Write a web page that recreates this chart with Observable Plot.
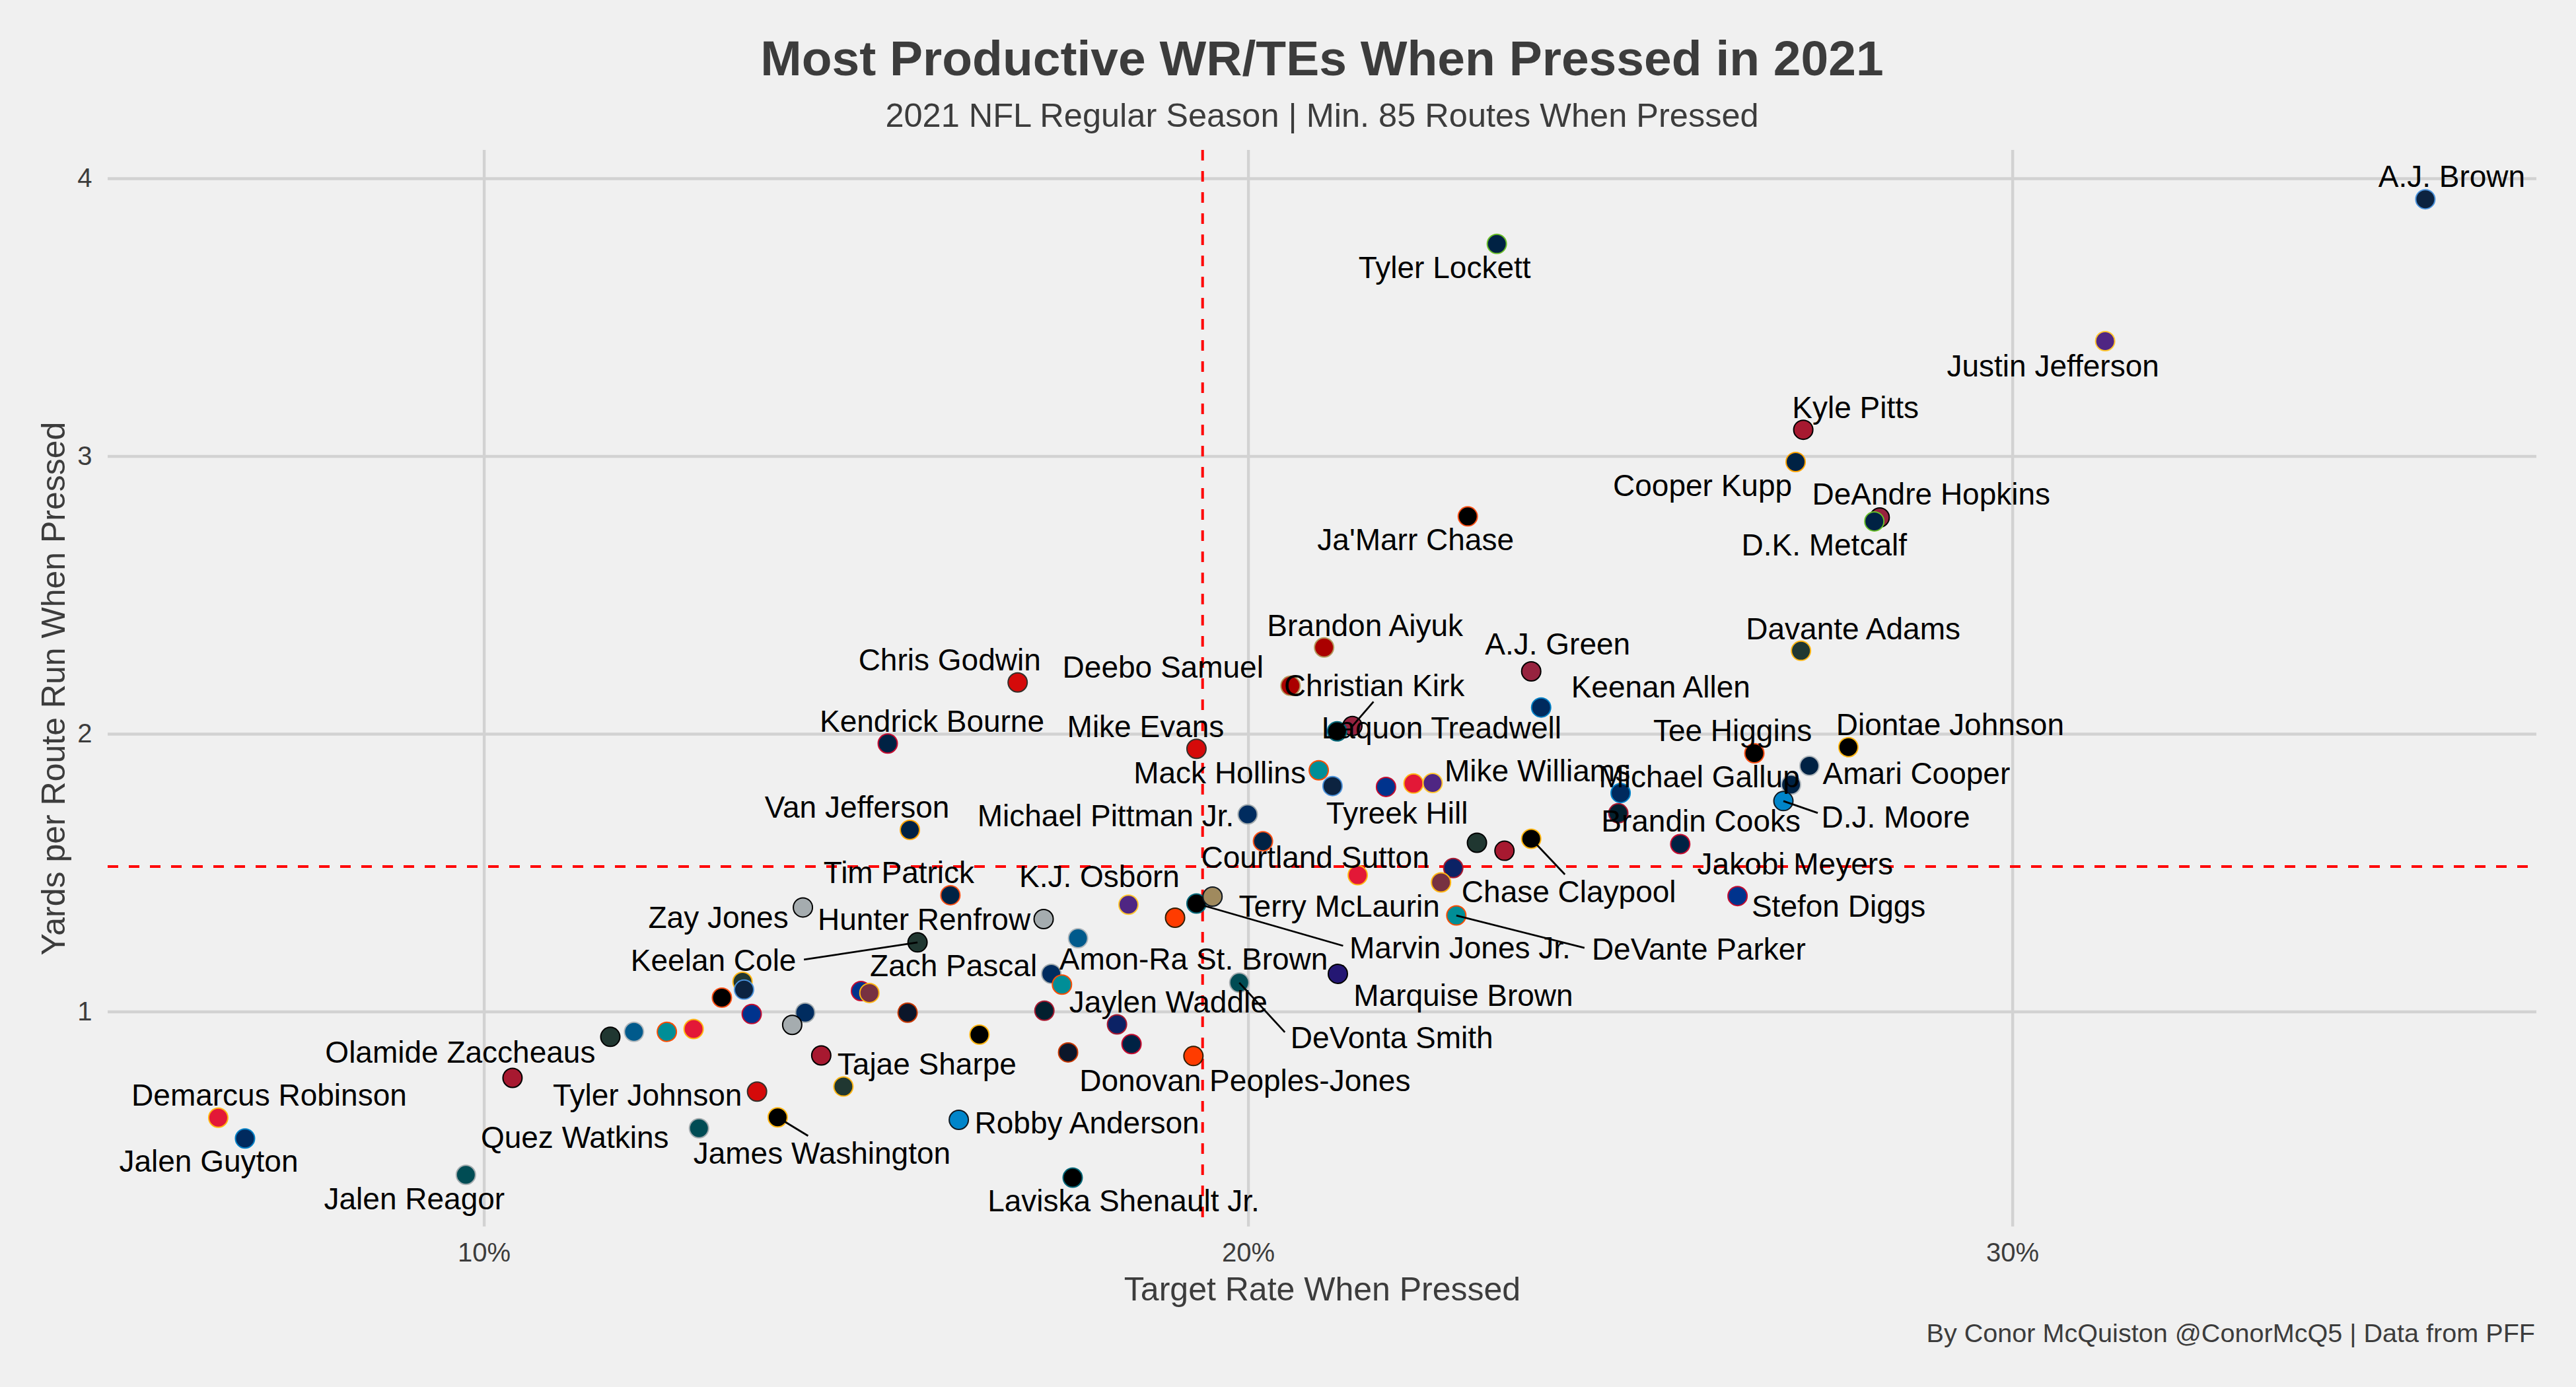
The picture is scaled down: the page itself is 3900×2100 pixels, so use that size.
<!DOCTYPE html>
<html>
<head>
<meta charset="utf-8">
<script src="https://cdn.jsdelivr.net/npm/d3@7"></script>
<script src="https://cdn.jsdelivr.net/npm/@observablehq/plot@0.6"></script>
<style>
  html, body { margin: 0; padding: 0; background: #F0F0F0; }
  #page { position: relative; width: 3900px; height: 2100px; background: #F0F0F0; overflow: hidden;
          font-family: "Liberation Sans", Arial, Helvetica, sans-serif; color: #3C3C3C; }
  #title { position: absolute; left: 163px; width: 3677px; top: 51px; text-align: center;
           font-size: 75px; line-height: 75px; font-weight: bold; white-space: nowrap; }
  #subtitle { position: absolute; left: 163px; width: 3677px; top: 150px; text-align: center;
              font-size: 50.5px; line-height: 50px; white-space: nowrap; }
  #chart { position: absolute; left: 0; top: 210px; }
  #caption { position: absolute; right: 62px; top: 1998px; font-size: 39.6px; line-height: 40px; white-space: nowrap; }
</style>
</head>
<body>
<div id="page">
  <div id="title">Most Productive WR/TEs When Pressed in 2021</div>
  <div id="subtitle">2021 NFL Regular Season | Min. 85 Routes When Pressed</div>
  <div id="chart"></div>
  <div id="caption">By Conor McQuiston @ConorMcQ5 | Data from PFF</div>
</div>
<script>
// ---------------- DATA ----------------
const players = [
  "A.J. Brown", "Justin Jefferson", "Tyler Lockett", "Kyle Pitts", "Cooper Kupp",
  "DeAndre Hopkins", "D.K. Metcalf", "Ja'Marr Chase", "Davante Adams", "Brandon Aiyuk",
  "A.J. Green", "Chris Godwin", "Deebo Samuel", "Keenan Allen", "Christian Kirk",
  "Laquon Treadwell", "Kendrick Bourne", "Mike Evans", "Tee Higgins", "Diontae Johnson",
  "Amari Cooper", "Michael Gallup", "D.J. Moore", "Mack Hollins", "",
  "", "Tyreek Hill", "", "Mike Williams", "Brandin Cooks",
  "Michael Pittman Jr.", "Courtland Sutton", "Jakobi Meyers", "Van Jefferson", "Chase Claypool",
  "", "", "", "", "Terry McLaurin",
  "DeVante Parker", "Stefon Diggs", "Tim Patrick", "Zay Jones", "Hunter Renfrow",
  "K.J. Osborn", "", "Marvin Jones Jr.", "", "Keelan Cole",
  "Amon-Ra St. Brown", "Zach Pascal", "Jaylen Waddle", "Marquise Brown", "DeVonta Smith",
  "", "", "", "", "",
  "", "", "", "", "",
  "", "", "", "", "Donovan Peoples-Jones",
  "Olamide Zaccheaus", "", "", "", "",
  "Tajae Sharpe", "", "Tyler Johnson", "James Washington", "Quez Watkins",
  "Robby Anderson", "Laviska Shenault Jr.", "Demarcus Robinson", "Jalen Guyton", "Jalen Reagor"
];
const teams = [
  "TEN", "MIN", "SEA", "ATL", "LA",
  "ARI", "SEA", "CIN", "GB", "SF",
  "ARI", "TB", "SF", "LAC", "ARI",
  "JAX", "NE", "TB", "CIN", "PIT",
  "DAL", "DAL", "CAR", "MIA", "TEN",
  "BUF", "KC", "MIN", "LAC", "HOU",
  "IND", "DEN", "NE", "LA", "PIT",
  "NYJ", "ATL", "KC", "NYG", "WAS",
  "MIA", "BUF", "DEN", "LV", "LV",
  "MIN", "CLE", "JAX", "NO", "NYJ",
  "DET", "IND", "MIA", "BAL", "PHI",
  "GB", "TEN", "CIN", "BUF", "IND",
  "LV", "BUF", "WAS", "CHI", "HOU",
  "NYG", "PIT", "CHI", "NE", "CLE",
  "ATL", "NYJ", "DET", "MIA", "KC",
  "ATL", "GB", "TB", "PIT", "PHI",
  "CAR", "JAX", "KC", "LAC", "PHI"
];
// Target rate when pressed (%)
const targetRate = [
  35.40, 31.21, 23.25, 27.26, 27.16,
  28.26, 28.19, 22.87, 27.23, 20.99,
  23.70, 16.98, 20.55, 23.83, 21.36,
  21.16, 15.28, 19.32, 26.62, 27.85,
  27.34, 27.10, 27.00, 20.92, 21.10,
  21.80, 22.16, 22.41, 24.87, 24.84,
  19.99, 20.19, 25.65, 15.57, 23.70,
  22.99, 23.35, 21.43, 22.68, 22.52,
  22.72, 26.40, 16.10, 14.17, 17.32,
  18.43, 19.04, 19.32, 19.53, 15.67,
  17.77, 17.42, 17.56, 21.17, 19.88,
  13.38, 13.40, 13.11, 13.50, 14.20,
  14.03, 14.93, 15.04, 15.54, 17.33,
  18.28, 16.48, 17.64, 18.47, 19.28,
  10.37, 11.65, 11.96, 12.39, 12.74,
  14.41, 14.70, 13.57, 13.84, 12.81,
  16.21, 17.70, 6.52, 6.87, 9.76
];
// Yards per route run when pressed
const yprr = [
  3.926, 3.415, 3.765, 3.096, 2.980,
  2.780, 2.766, 2.784, 2.300, 2.312,
  2.226, 2.186, 2.174, 2.096, 2.029,
  2.010, 1.966, 1.947, 1.931, 1.953,
  1.886, 1.818, 1.759, 1.870, 1.813,
  1.810, 1.822, 1.824, 1.788, 1.715,
  1.711, 1.614, 1.604, 1.655, 1.623,
  1.609, 1.580, 1.492, 1.518, 1.466,
  1.347, 1.417, 1.420, 1.376, 1.334,
  1.386, 1.339, 1.390, 1.415, 1.250,
  1.265, 1.137, 1.098, 1.137, 1.105,
  1.108, 1.080, 1.051, 0.992, 0.997,
  0.953, 1.075, 1.068, 0.997, 1.004,
  0.955, 0.918, 0.854, 0.884, 0.841,
  0.762, 0.910, 0.928, 0.928, 0.938,
  0.843, 0.731, 0.713, 0.620, 0.581,
  0.611, 0.403, 0.619, 0.544, 0.413
];
const avgTargetRate = 19.40;
const avgYprr = 1.523;
const xTicks = [10, 20, 30];
const yTicks = [1, 2, 3, 4];

// team colours: [fill, outline]
const teamColors = {
  ARI: ["#97233F", "#000000"], ATL: ["#A71930", "#000000"], BAL: ["#241773", "#000000"],
  BUF: ["#00338D", "#C60C30"], CAR: ["#0085CA", "#101820"], CHI: ["#0B162A", "#C83803"],
  CIN: ["#000000", "#FB4F14"], CLE: ["#FF3C00", "#311D00"], DAL: ["#002244", "#B0B7BC"],
  DEN: ["#002244", "#FB4F14"], DET: ["#005A8C", "#B0B7BC"], GB: ["#203731", "#FFB612"],
  HOU: ["#03202F", "#A71930"], IND: ["#002C5F", "#A2AAAD"], JAX: ["#000000", "#006778"],
  KC: ["#E31837", "#FFB612"], LA: ["#002244", "#FFA300"], LAC: ["#002A5E", "#0080C6"],
  LV: ["#A5ACAF", "#000000"], MIA: ["#008E97", "#FC4C02"], MIN: ["#4F2683", "#FFC62F"],
  NE: ["#002244", "#C60C30"], NO: ["#A08A5E", "#101820"], NYG: ["#0B2265", "#A71930"],
  NYJ: ["#203731", "#000000"], PHI: ["#004C54", "#A5ACAF"], PIT: ["#000000", "#FFB612"],
  SEA: ["#002244", "#69BE28"], SF: ["#AA0000", "#B3995D"], TB: ["#D50A0A", "#34302B"],
  TEN: ["#0C2340", "#4B92DB"], WAS: ["#773141", "#FFB612"]
};

// ---------------- LAYOUT (label placement, px offsets from the point) ----------------
const labelNudge = {
  "A.J. Brown": [40, -33], "Justin Jefferson": [-79, 39], "Tyler Lockett": [-79, 37],
  "Kyle Pitts": [79, -32], "Cooper Kupp": [-141, 37], "DeAndre Hopkins": [78, -34],
  "D.K. Metcalf": [-76, 37], "Ja'Marr Chase": [-79, 36], "Davante Adams": [79, -32],
  "Brandon Aiyuk": [62, -32], "A.J. Green": [40, -40], "Chris Godwin": [-103, -33],
  "Deebo Samuel": [-193, -27], "Keenan Allen": [181, -30], "Christian Kirk": [33, -60],
  "Laquon Treadwell": [158, -4], "Kendrick Bourne": [67, -33], "Mike Evans": [-77, -33],
  "Tee Higgins": [-33, -33], "Diontae Johnson": [154, -33], "Amari Cooper": [162, 13],
  "Michael Gallup": [-139, -11], "D.J. Moore": [170, 25], "Mack Hollins": [-150, 5],
  "Tyreek Hill": [-25, 46], "Mike Williams": [-126, -32], "Brandin Cooks": [125, 13],
  "Michael Pittman Jr.": [-215, 3], "Courtland Sutton": [79, 25], "Jakobi Meyers": [174, 31],
  "Van Jefferson": [-80, -33], "Chase Claypool": [57, 81], "Terry McLaurin": [-154, 37],
  "DeVante Parker": [367, 52], "Stefon Diggs": [153, 17], "Tim Patrick": [-78, -33],
  "Zay Jones": [-128, 16], "Hunter Renfrow": [-181, 2], "K.J. Osborn": [-44, -41],
  "Marvin Jones Jr.": [399, 68], "Keelan Cole": [-309, 28], "Amon-Ra St. Brown": [175, 33],
  "Zach Pascal": [-148, -11], "Jaylen Waddle": [161, 27], "Marquise Brown": [190, 34],
  "DeVonta Smith": [231, 84], "Donovan Peoples-Jones": [78, 38], "Olamide Zaccheaus": [-79, -38],
  "Tajae Sharpe": [160, 14], "Tyler Johnson": [-166, 7], "James Washington": [67, 55],
  "Quez Watkins": [-188, 15], "Robby Anderson": [194, 6], "Laviska Shenault Jr.": [77, 36],
  "Demarcus Robinson": [77, -33], "Jalen Guyton": [-55, 36], "Jalen Reagor": [-78, 37]
};
// leader line end points (px offsets from the point)
const leaderEnds = {
  "Christian Kirk": [32, -37], "D.J. Moore": [52, 18], "Chase Claypool": [51, 54],
  "DeVante Parker": [194, 49], "Marvin Jones Jr.": [222, 64], "Keelan Cole": [-172, 26],
  "DeVonta Smith": [69, 75], "James Washington": [46, 28]
};

// ---------------- CHART ----------------
const width = 3900, height = 1780;
const mL = 163, mR = 60, mT = 17, mB = 133;
const xDomain = [5.077, 36.857];
const yDomain = [0.2259, 4.1023];

const sx = Plot.scale({x: {domain: xDomain, range: [mL, width - mR]}});
const sy = Plot.scale({y: {domain: yDomain, range: [height - mB, mT]}});

const rows = players.map((name, i) => ({
  name, team: teams[i], x: targetRate[i], y: yprr[i],
  fill: teamColors[teams[i]][0], stroke: teamColors[teams[i]][1]
}));
const labelRows = rows.filter(d => labelNudge[d.name]).map(d => {
  const [dx, dy] = labelNudge[d.name];
  return {...d, lx: sx.invert(sx.apply(d.x) + dx), ly: sy.invert(sy.apply(d.y) + dy)};
});
const leaderRows = rows.filter(d => leaderEnds[d.name]).map(d => {
  const [dx, dy] = leaderEnds[d.name];
  return {...d, x2: sx.invert(sx.apply(d.x) + dx), y2: sy.invert(sy.apply(d.y) + dy)};
});

const chart = Plot.plot({
  width, height,
  marginLeft: mL, marginRight: mR, marginTop: mT, marginBottom: mB,
  style: {background: "transparent", fontFamily: "'Liberation Sans', Arial, Helvetica, sans-serif",
          fontSize: "40px", color: "#3C3C3C", overflow: "visible"},
  x: {domain: xDomain, ticks: xTicks, tickFormat: d => d + "%", tickSize: 0, tickPadding: 24, label: null},
  y: {domain: yDomain, ticks: yTicks, tickFormat: d => String(d), tickSize: 0, tickPadding: 24, label: null},
  color: {type: "identity"},
  marks: [
    Plot.ruleX(xTicks, {stroke: "#D2D2D2", strokeWidth: 4.4}),
    Plot.ruleY(yTicks, {stroke: "#D2D2D2", strokeWidth: 4.4}),
    Plot.ruleY([avgYprr], {stroke: "#FF0000", strokeWidth: 4, strokeDasharray: "16,16"}),
    Plot.ruleX([avgTargetRate], {stroke: "#FF0000", strokeWidth: 4, strokeDasharray: "16,16"}),
    Plot.dot(rows, {x: "x", y: "y", r: 14.5, fill: "fill", stroke: "stroke", strokeWidth: 2}),
    Plot.link(leaderRows, {x1: "x", y1: "y", x2: "x2", y2: "y2", stroke: "#000000", strokeWidth: 2.8}),
    Plot.text(labelRows, {x: "lx", y: "ly", text: "name", fontSize: 46, fill: "#000000",
                          textAnchor: "middle", lineAnchor: "middle"}),
    Plot.text(["Target Rate When Pressed"], {text: d => d, frameAnchor: "bottom", dy: 111,
                          textAnchor: "middle", lineAnchor: "bottom", fontSize: 50, fill: "#3C3C3C"}),
    Plot.text(["Yards per Route Run When Pressed"], {text: d => d, frameAnchor: "left", dx: -66,
                          rotate: -90, textAnchor: "middle", lineAnchor: "bottom", fontSize: 50, fill: "#3C3C3C"})
  ]
});
document.getElementById("chart").appendChild(chart);
</script>
</body>
</html>
